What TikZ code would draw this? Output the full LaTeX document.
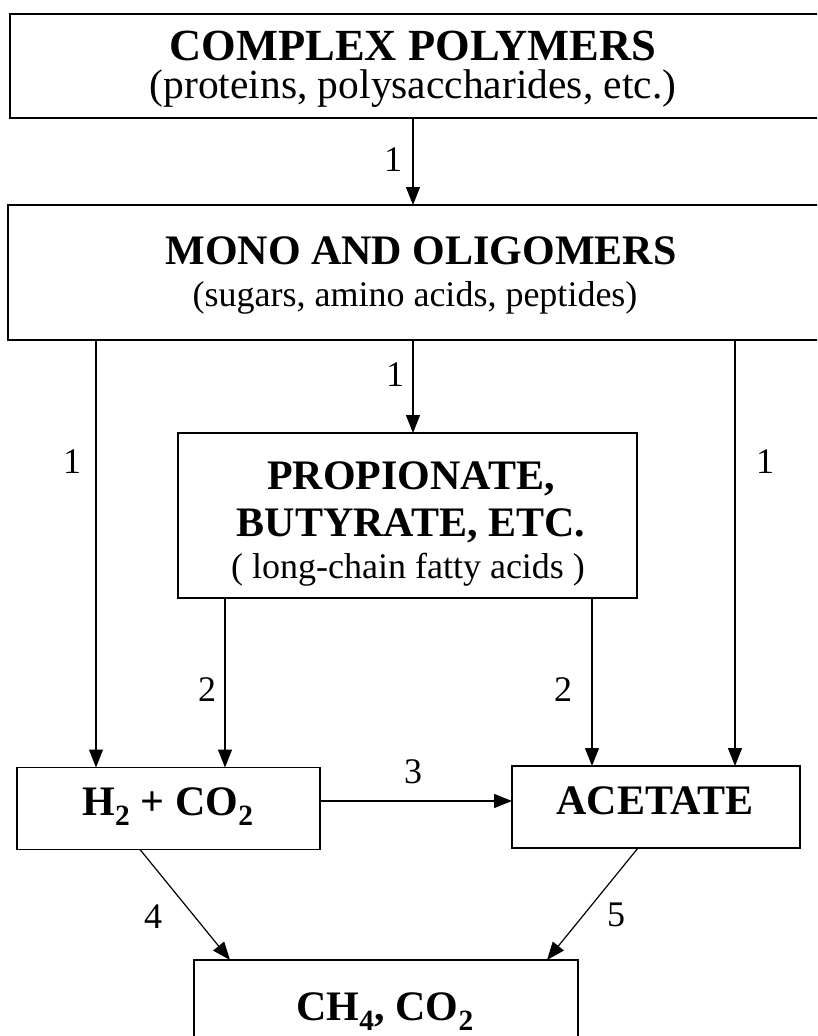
\documentclass[tikz,border=0pt]{standalone}
\usepackage{fontspec}
\setmainfont{Liberation Serif}
\usetikzlibrary{arrows.meta}
\begin{document}
\begin{tikzpicture}[x=1pt,y=-1pt,
  box/.style={draw=black,line width=1.5pt,inner sep=0pt,outer sep=0pt,anchor=center},
  ttl/.style={font=\fontsize{42}{46}\selectfont\bfseries,inner sep=0pt,anchor=base},
  sbt/.style={font=\fontsize{36}{40}\selectfont,inner sep=0pt,anchor=base},
  arr/.style={draw=black,line width=1.2pt,-{Triangle[length=18pt,width=14pt]}},
  lab/.style={font=\fontsize{36}{40}\selectfont,inner sep=0pt,anchor=center}]
\useasboundingbox (0,0) rectangle (817,1036);
\clip (0,0) rectangle (817,1036);
\fill[white] (0,0) rectangle (817,1036);
% boxes
\node[box,minimum width=812pt,minimum height=104pt] (top) at (416,66) {};
\node[box,minimum width=814pt,minimum height=135pt] (mono) at (415,272.5) {};
\node[box,minimum width=459pt,minimum height=165pt] (prop) at (407.5,515.5) {};
\node[box,minimum width=303pt,minimum height=82pt] (h2) at (168.5,808.5) {};
\node[box,minimum width=288pt,minimum height=82pt] (ace) at (656,807) {};
\node[box,minimum width=384pt,minimum height=100pt] (bot) at (386,1010) {};
% texts
\node[ttl,font=\fontsize{44.5}{48}\selectfont\bfseries] (t1) at (413,60) {COMPLEX POLYMERS};
\node[sbt,font=\fontsize{41.5}{46}\selectfont] (s1) at (413,98) {(proteins, polysaccharides, etc.)};
\node[ttl] (t2) at (421,264) {MONO AND OLIGOMERS};
\node[sbt] (s2) at (415,306) {(sugars, amino acids, peptides)};
\node[ttl] (t3a) at (411,489) {PROPIONATE,};
\node[ttl] (t3b) at (411,536) {BUTYRATE, ETC.};
\node[sbt] (s3) at (408,578) {( long-chain fatty acids )};
\node[ttl] (t4) at (168,815) {H\textsubscript{2} + CO\textsubscript{2}};
\node[ttl] (t5) at (655,814) {ACETATE};
\node[ttl] (t6) at (385,1020) {CH\textsubscript{4}, CO\textsubscript{2}};
% helper coordinates
\coordinate (xL) at (96,0);
\coordinate (xC) at (413,0);
\coordinate (xR) at (735,0);
\coordinate (xP1) at (225,0);
\coordinate (xP2) at (592,0);
\coordinate (y3) at (0,801);
\coordinate (x4a) at (140,0);
\coordinate (x4b) at (230,0);
\coordinate (x5a) at (638,0);
\coordinate (x5b) at (547,0);
% arrows
\draw[arr] (top.south -| xC) -- (mono.north -| xC);
\draw[arr] (mono.south -| xL) -- (h2.north -| xL);
\draw[arr] (mono.south -| xC) -- (prop.north -| xC);
\draw[arr] (mono.south -| xR) -- (ace.north -| xR);
\draw[arr] (prop.south -| xP1) -- (h2.north -| xP1);
\draw[arr] (prop.south -| xP2) -- (ace.north -| xP2);
\draw[arr] (h2.east |- y3) -- (ace.west |- y3);
\draw[arr] (h2.south -| x4a) -- (bot.north -| x4b);
\draw[arr] (ace.south -| x5a) -- (bot.north -| x5b);
% labels
\node[lab] (l1) at (393,160) {1};
\node[lab] (l2) at (395,375) {1};
\node[lab] (l3) at (72,462) {1};
\node[lab] (l4) at (765,462) {1};
\node[lab] (l5) at (207,690) {2};
\node[lab] (l6) at (563,690) {2};
\node[lab] (l7) at (413,772) {3};
\node[lab] (l8) at (153,917) {4};
\node[lab] (l9) at (616,915) {5};
\end{tikzpicture}
\end{document}
